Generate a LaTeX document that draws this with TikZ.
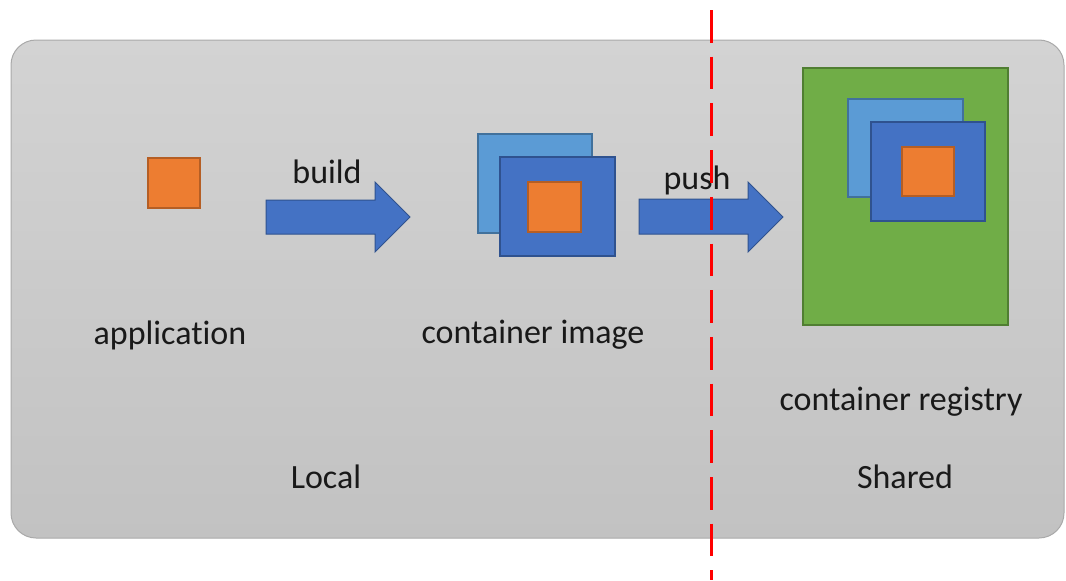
\documentclass[tikz,border=0pt]{standalone}
\usepackage{fontspec}
\setmainfont{Carlito}[RawFeature=-liga]
\definecolor{bgtop}{HTML}{D3D3D3}
\definecolor{bgbot}{HTML}{C2C2C2}
\definecolor{bgline}{HTML}{A9A9A9}
\definecolor{orfill}{HTML}{ED7D31}
\definecolor{orline}{HTML}{B55E24}
\definecolor{dbfill}{HTML}{4472C4}
\definecolor{dbline}{HTML}{2F528F}
\definecolor{lbfill}{HTML}{5B9BD5}
\definecolor{lbline}{HTML}{41719C}
\definecolor{gnfill}{HTML}{70AD47}
\definecolor{gnline}{HTML}{507E32}
\definecolor{redline}{HTML}{FF0000}
\tikzset{
  orbox/.style={fill=orfill,draw=orline,line width=1.5pt},
  dbbox/.style={fill=dbfill,draw=dbline,line width=1.5pt},
  lbbox/.style={fill=lbfill,draw=lbline,line width=1.5pt},
  gnbox/.style={fill=gnfill,draw=gnline,line width=1.5pt},
  blockarrow/.style={fill=dbfill,draw=dbline,line width=1pt,line join=miter},
  lbl/.style={font=\fontsize{34}{40}\selectfont,text=black!90,inner sep=0pt,anchor=center}
}
\begin{document}
\begin{tikzpicture}[x=1pt,y=-1pt]
\useasboundingbox (0,0) rectangle (1066,581);
% background panel
\node[draw=bgline,line width=1pt,rounded corners=25pt,top color=bgtop,bottom color=bgbot,
  minimum width=1053pt,minimum height=498pt,inner sep=0pt] (panel) at (537.5,289) {};
% application
\node[orbox,minimum width=52pt,minimum height=50pt,inner sep=0pt] (app) at (174,183) {};
% container image
\node[lbbox,minimum width=114pt,minimum height=99pt,inner sep=0pt] (imgback) at (535,183.5) {};
\node[dbbox,minimum width=115pt,minimum height=99pt,inner sep=0pt] (imgfront) at (557.5,206.5) {};
\node[orbox,minimum width=53pt,minimum height=50pt,inner sep=0pt] (imgapp) at (554.5,207) {};
% registry
\node[gnbox,minimum width=205pt,minimum height=257pt,inner sep=0pt] (reg) at (905.5,196.5) {};
\node[lbbox,minimum width=115pt,minimum height=98pt,inner sep=0pt] (regback) at (905.5,148) {};
\node[dbbox,minimum width=114pt,minimum height=99pt,inner sep=0pt] (regfront) at (928,171.5) {};
\node[orbox,minimum width=52pt,minimum height=49pt,inner sep=0pt] (regapp) at (928,171.5) {};
% block arrows
\coordinate (b1) at (266,217);
\coordinate (b2) at (410,217);
\draw[blockarrow] (b1 |- 0,200) -- (375,200) -- (375,182) -- (b2) -- (375,252) -- (375,234) -- (b1 |- 0,234) -- cycle;
\coordinate (p1) at (639,217);
\coordinate (p2) at (783,217);
\draw[blockarrow] (p1 |- 0,199) -- (748,199) -- (748,182) -- (p2) -- (748,252) -- (748,234) -- (p1 |- 0,234) -- cycle;
% labels
\node[lbl] (build) at (327,172) {build};
\node[lbl] (push) at (697,180) {push};
\node[lbl] (tapp) at (170,335) {application};
\node[lbl] (timg) at (533,335) {container image};
\node[lbl] (treg) at (901,402) {container registry};
\node[lbl] (tloc) at (326,477) {Local};
\node[lbl] (tsh) at (905,477) {Shared};
% divider
\coordinate (dtop) at (711,10);
\coordinate (dbot) at (711,580);
\draw[redline,line width=3pt,dash pattern=on 32.7pt off 14pt] (dtop) -- (dbot);
\end{tikzpicture}
\end{document}
